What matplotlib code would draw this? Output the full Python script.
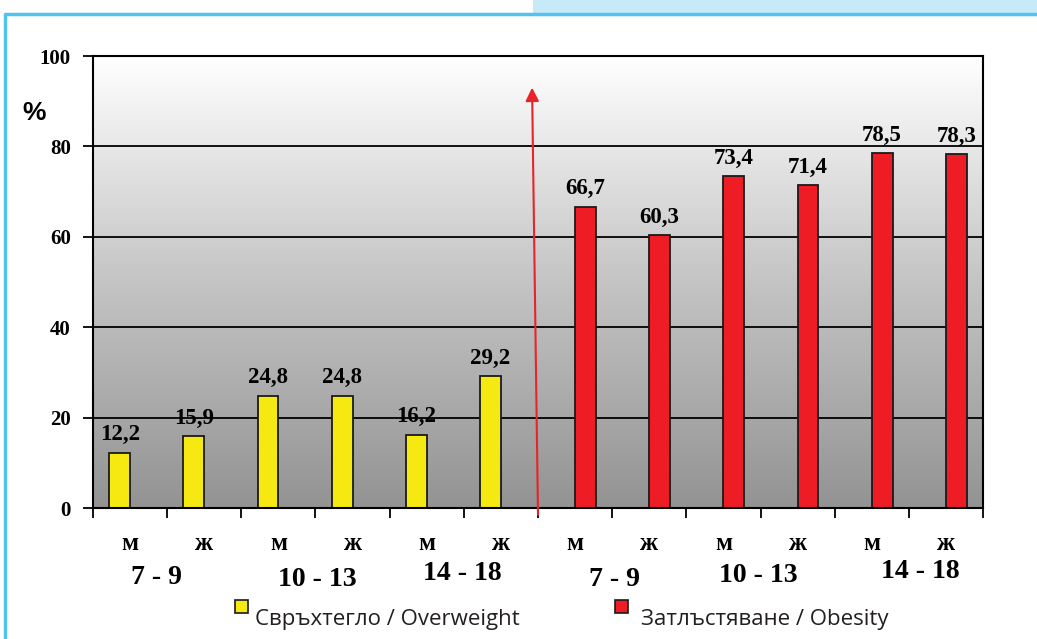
import numpy as np
import matplotlib.pyplot as plt
from matplotlib.patches import Rectangle
from matplotlib.lines import Line2D
from matplotlib.colors import LinearSegmentedColormap

# data: share of children (%) by sex and age group
sex = ['м', 'ж'] * 6
ages = ['7 - 9', '10 - 13', '14 - 18', '7 - 9', '10 - 13', '14 - 18']
overweight = [12.2, 15.9, 24.8, 24.8, 16.2, 29.2]
obesity = [66.7, 60.3, 73.4, 71.4, 78.5, 78.3]
legend_labels = ['Свръхтегло / Overweight', 'Затлъстяване / Obesity']

YELLOW = '#f6e912'
RED = '#ee1d25'
SERIF = 'Liberation Serif'

W, H = 1037, 639
fig = plt.figure(figsize=(W / 100, H / 100), dpi=100)


def fx(px):
    return px / W


def fy(py):
    return (H - py) / H


ax = fig.add_axes([fx(93), fy(508), 890 / W, 452 / H])
ax.set_xlim(-0.5, 11.5)
ax.set_ylim(0, 100)

# grey-to-white background of the plot area
bg = LinearSegmentedColormap.from_list('bg', ['#939393', '#c4c4c4', '#ffffff'])
ax.imshow(np.linspace(0, 1, 256).reshape(-1, 1), cmap=bg, origin='lower',
          extent=[-0.5, 11.5, 0, 100], aspect='auto', zorder=0)

ax.set_axisbelow(True)
ax.yaxis.grid(True, color='black', lw=1.3)

bw = 0.28
x_ow = np.arange(6) - bw / 2
x_ob = np.arange(6, 12) + bw / 2
ax.bar(x_ow, overweight, width=bw, color=YELLOW, edgecolor='#1a1a1a', lw=1.3, zorder=2)
ax.bar(x_ob, obesity, width=bw, color=RED, edgecolor='#1a1a1a', lw=1.3, zorder=2)

for xs, vals in ((x_ow, overweight), (x_ob, obesity)):
    for x, v in zip(xs, vals):
        ax.annotate(f'{v:.1f}'.replace('.', ','), (x, v), xytext=(0, 9),
                    textcoords='offset points', ha='center', va='baseline',
                    fontsize=16.5, fontweight='bold', family=SERIF, zorder=3)

for s in ax.spines.values():
    s.set_color('black')
    s.set_linewidth(1.5)

ax.set_yticks(range(0, 101, 20))
ax.set_yticklabels([str(v) for v in range(0, 101, 20)], fontsize=15,
                   fontweight='bold', family=SERIF)
ax.tick_params(axis='y', length=7, width=1.3, pad=9)
ax.set_xticks(np.arange(-0.5, 12, 1))
ax.set_xticklabels([])
ax.tick_params(axis='x', length=7, width=1.3)

# sex and age group labels under the axis
for i, s in enumerate(sex):
    ax.annotate(s, (i, H - 543), xycoords=('data', 'figure pixels'),
                ha='center', va='center', fontsize=18, fontweight='bold',
                family=SERIF)

age_dx = [-0.15, 0.03, -0.02, 0.03, -0.03, 0.15]
age_y = [577, 580, 573, 580, 576, 571]
for k, a in enumerate(ages):
    ax.annotate(a, (2 * k + 0.5 + age_dx[k], H - age_y[k]),
                xycoords=('data', 'figure pixels'), ha='center', va='center',
                fontsize=20, fontweight='bold', family=SERIF)

# red divider arrow between the two groups
ax.annotate('', xy=(5.42, 93), xytext=(5.5, -1.5),
            arrowprops=dict(arrowstyle='-|>', color='#e8232a', lw=1.5,
                            mutation_scale=20, shrinkA=0, shrinkB=0),
            annotation_clip=False, zorder=4)

fig.text(fx(22), fy(113), '%', fontsize=19, fontweight='bold',
         family='Liberation Sans', va='center', ha='left')

# legend
for (sx, tx), col, lab in zip(((235, 255), (615, 641)), (YELLOW, RED), legend_labels):
    fig.add_artist(Rectangle((fx(sx), fy(613)), 13 / W, 13 / H, facecolor=col,
                             edgecolor='#1a1a1a', lw=1.2))
    fig.text(fx(tx), fy(620), lab, fontsize=16, color='#231f20', va='center',
             ha='left', family=['Open Sans', 'DejaVu Sans'])

# slide frame
fig.add_artist(Rectangle((fx(533), fy(13)), 1 - fx(533), 13 / H,
                         facecolor='#c6eaf8', edgecolor='none'))
fig.add_artist(Line2D([fx(5), fx(5), 1], [0, fy(14), fy(14)],
                      color='#50c4ec', lw=2.5))

fig.savefig('out.png', dpi=100)
